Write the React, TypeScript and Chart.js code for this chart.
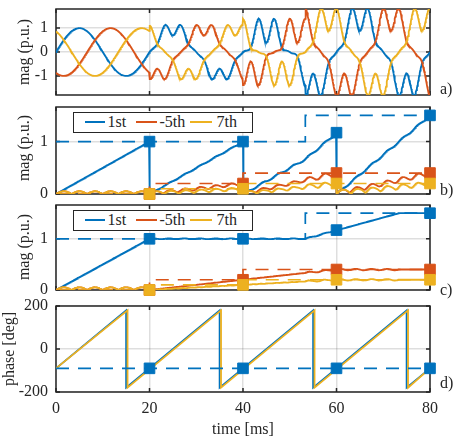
import React, { useEffect, useRef } from "react";
import { Chart, registerables } from "chart.js";

Chart.register(...registerables);

const BLUE = "#0072BD";
const ORANGE = "#D95319";
const YELLOW = "#EDB120";
const AXIS_COLOR = "#262626";
const GRID_COLOR = "rgba(0,0,0,0.13)";
const FONT_FAMILY = "'Liberation Serif', 'Times New Roman', Times, serif";

// Time axis
const TIME_MIN_MS = 0;
const TIME_MAX_MS = 80;
const TIME_TICKS_MS = [0, 20, 40, 60, 80];
const CYCLE_MS = 20;
const SAMPLE_MS = 0.1;

// Test signal: amplitudes hold from each interval start until the next one
const INTERVAL_START_MS = [0, 20, 40, 53.33];
const FUND_AMP_PU = [1, 1, 1, 1.5];
const NEG5_AMP_PU = [0, 0.2, 0.4, 0.4];
const POS7_AMP_PU = [0, 0.1, 0.2, 0.2];

// Components: signed harmonic order (negative = negative sequence), phase of phase a
const COMPONENT_ORDER = [1, -5, 7];
const COMPONENT_PHASE_DEG = [0, 180, 0];
const PHASE_SHIFT_DEG = [0, 120, -120];

const SERIES_NAMES = ["1st", "-5th", "7th"];

// Estimates at the end of each cycle
const MARK_T_MS = [20, 40, 60, 80];
const MARK_1ST_PU = [1, 1, 1.17, 1.5];
const MARK_5TH_PU = [0, 0.2, 0.4, 0.4];
const MARK_7TH_PU = [0, 0.1, 0.2, 0.2];

// Fundamental phase angle
const PHASE_REF_T_MS = [0, 80];
const PHASE_REF_DEG = [-90, -90];
const PHASE_1_T_MS = [0, 15, 15, 35, 35, 55, 55, 75, 75, 80];
const PHASE_1_DEG = [-90, 180, -180, 180, -180, 180, -180, 180, -180, -90];
const PHASE_2_T_MS = [0, 15.3, 15.3, 35.3, 35.3, 55.3, 55.3, 75.3, 75.3, 80];
const PHASE_2_DEG = [-90, 180, -180, 180, -180, 180, -180, 180, -180, -90];
const MARK_PHASE_DEG = [-90, -90, -90, -90];

// Axis ticks
const WAVE_TICKS = [-1, 0, 1];
const MAG_TICKS = [0, 1];
const PHASE_TICKS = [-200, 0, 200];

// ---------- signal synthesis and estimators ----------
const DEG = Math.PI / 180;
const N_CYCLE = Math.round(CYCLE_MS / SAMPLE_MS);
const N_TOTAL = Math.round((TIME_MAX_MS - TIME_MIN_MS) / SAMPLE_MS);

function amplitudesAt(t: number): number[] {
  let k = 0;
  for (let i = 0; i < INTERVAL_START_MS.length; i++) if (t >= INTERVAL_START_MS[i]) k = i;
  return [FUND_AMP_PU[k], NEG5_AMP_PU[k], POS7_AMP_PU[k]];
}

function phaseVoltage(t: number, shiftDeg: number): number {
  const amps = amplitudesAt(t);
  const theta = (360 * t) / CYCLE_MS;
  let v = 0;
  for (let i = 0; i < COMPONENT_ORDER.length; i++) {
    const n = Math.abs(COMPONENT_ORDER[i]);
    v += amps[i] * Math.sin((n * (theta - shiftDeg) + COMPONENT_PHASE_DEG[i]) * DEG);
  }
  return v;
}

type Sample = { t: number; v: number[]; al: number; be: number };

const samples: Sample[] = [];
for (let k = 0; k <= N_TOTAL; k++) {
  const t = +(TIME_MIN_MS + k * SAMPLE_MS).toFixed(4);
  const v = PHASE_SHIFT_DEG.map((s) => phaseVoltage(t, s));
  const al = (2 / 3) * (v[0] - 0.5 * v[1] - 0.5 * v[2]);
  const be = (v[1] - v[2]) / Math.sqrt(3);
  samples.push({ t, v, al, be });
}

function demodulated(k: number, order: number): [number, number] {
  const s = samples[k];
  const a = (-order * 360 * s.t * DEG) / CYCLE_MS;
  const c = Math.cos(a);
  const sn = Math.sin(a);
  return [s.al * c - s.be * sn, s.al * sn + s.be * c];
}

// DFT accumulated over each cycle and restarted at every cycle boundary
function resettingEstimate(order: number) {
  const pts: { x: number; y: number }[] = [];
  const cycles = Math.round(N_TOTAL / N_CYCLE);
  for (let c = 0; c < cycles; c++) {
    let re = 0;
    let im = 0;
    pts.push({ x: samples[c * N_CYCLE].t, y: 0 });
    for (let m = 1; m <= N_CYCLE; m++) {
      const k = c * N_CYCLE + m;
      const [r, i] = demodulated(k, order);
      re += r;
      im += i;
      pts.push({ x: samples[k].t, y: Math.hypot(re, im) / N_CYCLE });
    }
  }
  return pts;
}

// DFT over a sliding one-cycle window
function slidingEstimate(order: number) {
  const cre = [0];
  const cim = [0];
  for (let k = 1; k <= N_TOTAL; k++) {
    const [r, i] = demodulated(k, order);
    cre.push(cre[k - 1] + r);
    cim.push(cim[k - 1] + i);
  }
  const pts: { x: number; y: number }[] = [];
  for (let k = 0; k <= N_TOTAL; k++) {
    const j = Math.max(0, k - N_CYCLE);
    pts.push({ x: samples[k].t, y: Math.hypot(cre[k] - cre[j], cim[k] - cim[j]) / N_CYCLE });
  }
  return pts;
}

const zip = (xs: number[], ys: number[]) => xs.map((x, i) => ({ x, y: ys[i] }));
const stepRef = (amps: number[]) =>
  zip([...INTERVAL_START_MS, TIME_MAX_MS], [...amps, amps[amps.length - 1]]);

// ---------- dataset helpers ----------
const solid = (data: any[], color: string, order: number) => ({
  data,
  borderColor: color,
  backgroundColor: color,
  borderWidth: 1.8,
  pointRadius: 0,
  order,
});
const dashed = (data: any[], color: string, order: number) => ({
  ...solid(data, color, order),
  borderWidth: 1.7,
  borderDash: [13, 9],
  stepped: true,
});
const marks = (data: any[], color: string, order: number) => ({
  data,
  showLine: false,
  pointStyle: "rect",
  pointRadius: 7.5,
  pointBorderWidth: 1,
  pointBackgroundColor: color,
  pointBorderColor: color,
  backgroundColor: color,
  borderColor: color,
  clip: false,
  order,
});

const estimatorDatasets = (est: (o: number) => { x: number; y: number }[]) => [
  marks(zip(MARK_T_MS, MARK_7TH_PU), YELLOW, 0),
  marks(zip(MARK_T_MS, MARK_5TH_PU), ORANGE, 1),
  marks(zip(MARK_T_MS, MARK_1ST_PU), BLUE, 2),
  dashed(stepRef(POS7_AMP_PU), YELLOW, 3),
  dashed(stepRef(NEG5_AMP_PU), ORANGE, 4),
  dashed(stepRef(FUND_AMP_PU), BLUE, 5),
  solid(est(COMPONENT_ORDER[2]), YELLOW, 6),
  solid(est(COMPONENT_ORDER[1]), ORANGE, 7),
  solid(est(COMPONENT_ORDER[0]), BLUE, 8),
];

type Panel = {
  top: number;
  bottom: number;
  yMin: number;
  yMax: number;
  yTicks: number[];
  xLabels: boolean;
  datasets: any[];
};

const PANELS: Panel[] = [
  {
    top: 9,
    bottom: 95,
    yMin: -1.8,
    yMax: 1.8,
    yTicks: WAVE_TICKS,
    xLabels: false,
    datasets: [2, 1, 0].map((p, i) =>
      solid(
        samples.map((s) => ({ x: s.t, y: s.v[p] })),
        [BLUE, ORANGE, YELLOW][p],
        i
      )
    ),
  },
  {
    top: 107,
    bottom: 194,
    yMin: 0,
    yMax: 1.66,
    yTicks: MAG_TICKS,
    xLabels: false,
    datasets: estimatorDatasets(resettingEstimate),
  },
  {
    top: 205,
    bottom: 290,
    yMin: 0,
    yMax: 1.66,
    yTicks: MAG_TICKS,
    xLabels: false,
    datasets: estimatorDatasets(slidingEstimate),
  },
  {
    top: 306,
    bottom: 392,
    yMin: -200,
    yMax: 200,
    yTicks: PHASE_TICKS,
    xLabels: true,
    datasets: [
      marks(zip(MARK_T_MS, MARK_PHASE_DEG), BLUE, 0),
      solid(zip(PHASE_REF_T_MS, PHASE_REF_DEG), BLUE, 1),
      solid(zip(PHASE_2_T_MS, PHASE_2_DEG), YELLOW, 2),
      solid(zip(PHASE_1_T_MS, PHASE_1_DEG), BLUE, 3),
    ].map((d, i) => (i === 1 ? { ...d, borderDash: [13, 9], borderWidth: 1.7 } : d)),
  },
];

const PAD = 22;
const X_AXIS_H = 30;
const CANVAS_W = 458;
const AREA_LEFT = 56;
const AREA_RIGHT = 430;
const TICK_LEN = 4;

const canvasTop = (p: Panel) => p.top - PAD;
const canvasHeight = (p: Panel) => p.bottom - p.top + 2 * PAD + (p.xLabels ? X_AXIS_H : 0);

// Box around the plot area with inward tick marks on all four sides
const framePlugin = {
  id: "frame",
  beforeDatasetsDraw(chart: any) {
    const { ctx, chartArea: a, scales } = chart;
    ctx.save();
    ctx.strokeStyle = AXIS_COLOR;
    ctx.lineWidth = 1.5;
    ctx.beginPath();
    for (const v of TIME_TICKS_MS) {
      const px = scales.x.getPixelForValue(v);
      ctx.moveTo(px, a.top);
      ctx.lineTo(px, a.top + TICK_LEN);
      ctx.moveTo(px, a.bottom);
      ctx.lineTo(px, a.bottom - TICK_LEN);
    }
    for (const t of scales.y.ticks) {
      const py = scales.y.getPixelForValue(t.value);
      ctx.moveTo(a.left, py);
      ctx.lineTo(a.left + TICK_LEN, py);
      ctx.moveTo(a.right, py);
      ctx.lineTo(a.right - TICK_LEN, py);
    }
    ctx.stroke();
    ctx.strokeRect(a.left, a.top, a.right - a.left, a.bottom - a.top);
    ctx.restore();
  },
};

function buildConfig(p: Panel): any {
  const tickFont = { family: FONT_FAMILY, size: 16 };
  return {
    type: "line",
    data: { datasets: p.datasets },
    plugins: [framePlugin],
    options: {
      animation: false,
      responsive: false,
      maintainAspectRatio: false,
      devicePixelRatio: 1,
      events: [],
      layout: { padding: { left: 0, right: CANVAS_W - AREA_RIGHT, top: PAD, bottom: PAD } },
      plugins: { legend: { display: false }, tooltip: { enabled: false } },
      scales: {
        x: {
          type: "linear",
          min: TIME_MIN_MS,
          max: TIME_MAX_MS,
          afterBuildTicks: (s: any) => {
            s.ticks = TIME_TICKS_MS.map((value) => ({ value }));
          },
          afterFit: (s: any) => {
            s.height = p.xLabels ? X_AXIS_H : 0;
          },
          grid: { color: GRID_COLOR, lineWidth: 1.5, drawTicks: false },
          border: { display: false },
          ticks: { display: p.xLabels, padding: 7, font: tickFont, color: AXIS_COLOR, maxRotation: 0 },
        },
        y: {
          type: "linear",
          min: p.yMin,
          max: p.yMax,
          afterBuildTicks: (s: any) => {
            s.ticks = p.yTicks.map((value) => ({ value }));
          },
          afterFit: (s: any) => {
            s.width = AREA_LEFT;
          },
          grid: { color: GRID_COLOR, lineWidth: 1.5, drawTicks: false },
          border: { display: false },
          ticks: { padding: 8, font: tickFont, color: AXIS_COLOR },
        },
      },
    },
  };
}

const baseText: React.CSSProperties = {
  position: "absolute",
  fontFamily: FONT_FAMILY,
  fontSize: 16,
  lineHeight: "16px",
  color: AXIS_COLOR,
  whiteSpace: "nowrap",
};

function YTitle({ text, cx, cy }: { text: string; cx: number; cy: number }) {
  return (
    <div
      style={{
        ...baseText,
        left: cx,
        top: cy,
        transform: "translate(-50%, -50%) rotate(-90deg)",
      }}
    >
      {text}
    </div>
  );
}

function Legend({ top }: { top: number }) {
  const colors = [BLUE, ORANGE, YELLOW];
  const lines = [
    [85, 105],
    [136, 157],
    [190, 212],
  ];
  const textX = [108, 160, 217];
  const left = 73;
  const h = 21;
  return (
    <div
      style={{
        position: "absolute",
        left,
        top,
        width: 253 - left,
        height: h,
        boxSizing: "border-box",
        border: `1.5px solid ${AXIS_COLOR}`,
        background: "#fff",
      }}
    >
      {SERIES_NAMES.map((name, i) => (
        <React.Fragment key={name}>
          <div
            style={{
              position: "absolute",
              left: lines[i][0] - left - 1.5,
              top: h / 2 - 2.5,
              width: lines[i][1] - lines[i][0],
              height: 2,
              background: colors[i],
            }}
          />
          <div style={{ ...baseText, left: textX[i] - left - 1.5, top: h / 2 - 10 }}>{name}</div>
        </React.Fragment>
      ))}
    </div>
  );
}

export default function App() {
  const c0 = useRef<HTMLCanvasElement>(null);
  const c1 = useRef<HTMLCanvasElement>(null);
  const c2 = useRef<HTMLCanvasElement>(null);
  const c3 = useRef<HTMLCanvasElement>(null);
  const refs = [c0, c1, c2, c3];

  useEffect(() => {
    document.body.style.margin = "0";
    const charts = PANELS.map((p, i) => new Chart(refs[i].current as HTMLCanvasElement, buildConfig(p)));
    return () => charts.forEach((c) => c.destroy());
  }, []);

  return (
    <div style={{ position: "relative", width: 458, height: 440, overflow: "hidden", background: "#fff" }}>
      {PANELS.map((p, i) => (
        <canvas
          key={i}
          ref={refs[i]}
          width={CANVAS_W}
          height={canvasHeight(p)}
          style={{
            position: "absolute",
            left: 0,
            top: canvasTop(p),
            width: CANVAS_W,
            height: canvasHeight(p),
          }}
        />
      ))}
      <YTitle text="mag (p.u.)" cx={24} cy={52} />
      <YTitle text="mag (p.u.)" cx={24} cy={148} />
      <YTitle text="mag (p.u.)" cx={24} cy={247} />
      <YTitle text="phase [deg]" cx={9} cy={349} />
      <Legend top={112} />
      <Legend top={210} />
      <div style={{ ...baseText, left: 440, top: 81 }}>a)</div>
      <div style={{ ...baseText, left: 440, top: 182 }}>b)</div>
      <div style={{ ...baseText, left: 440, top: 282 }}>c)</div>
      <div style={{ ...baseText, left: 440, top: 375 }}>d)</div>
      <div style={{ ...baseText, left: 243, top: 421, transform: "translateX(-50%)" }}>time [ms]</div>
    </div>
  );
}
